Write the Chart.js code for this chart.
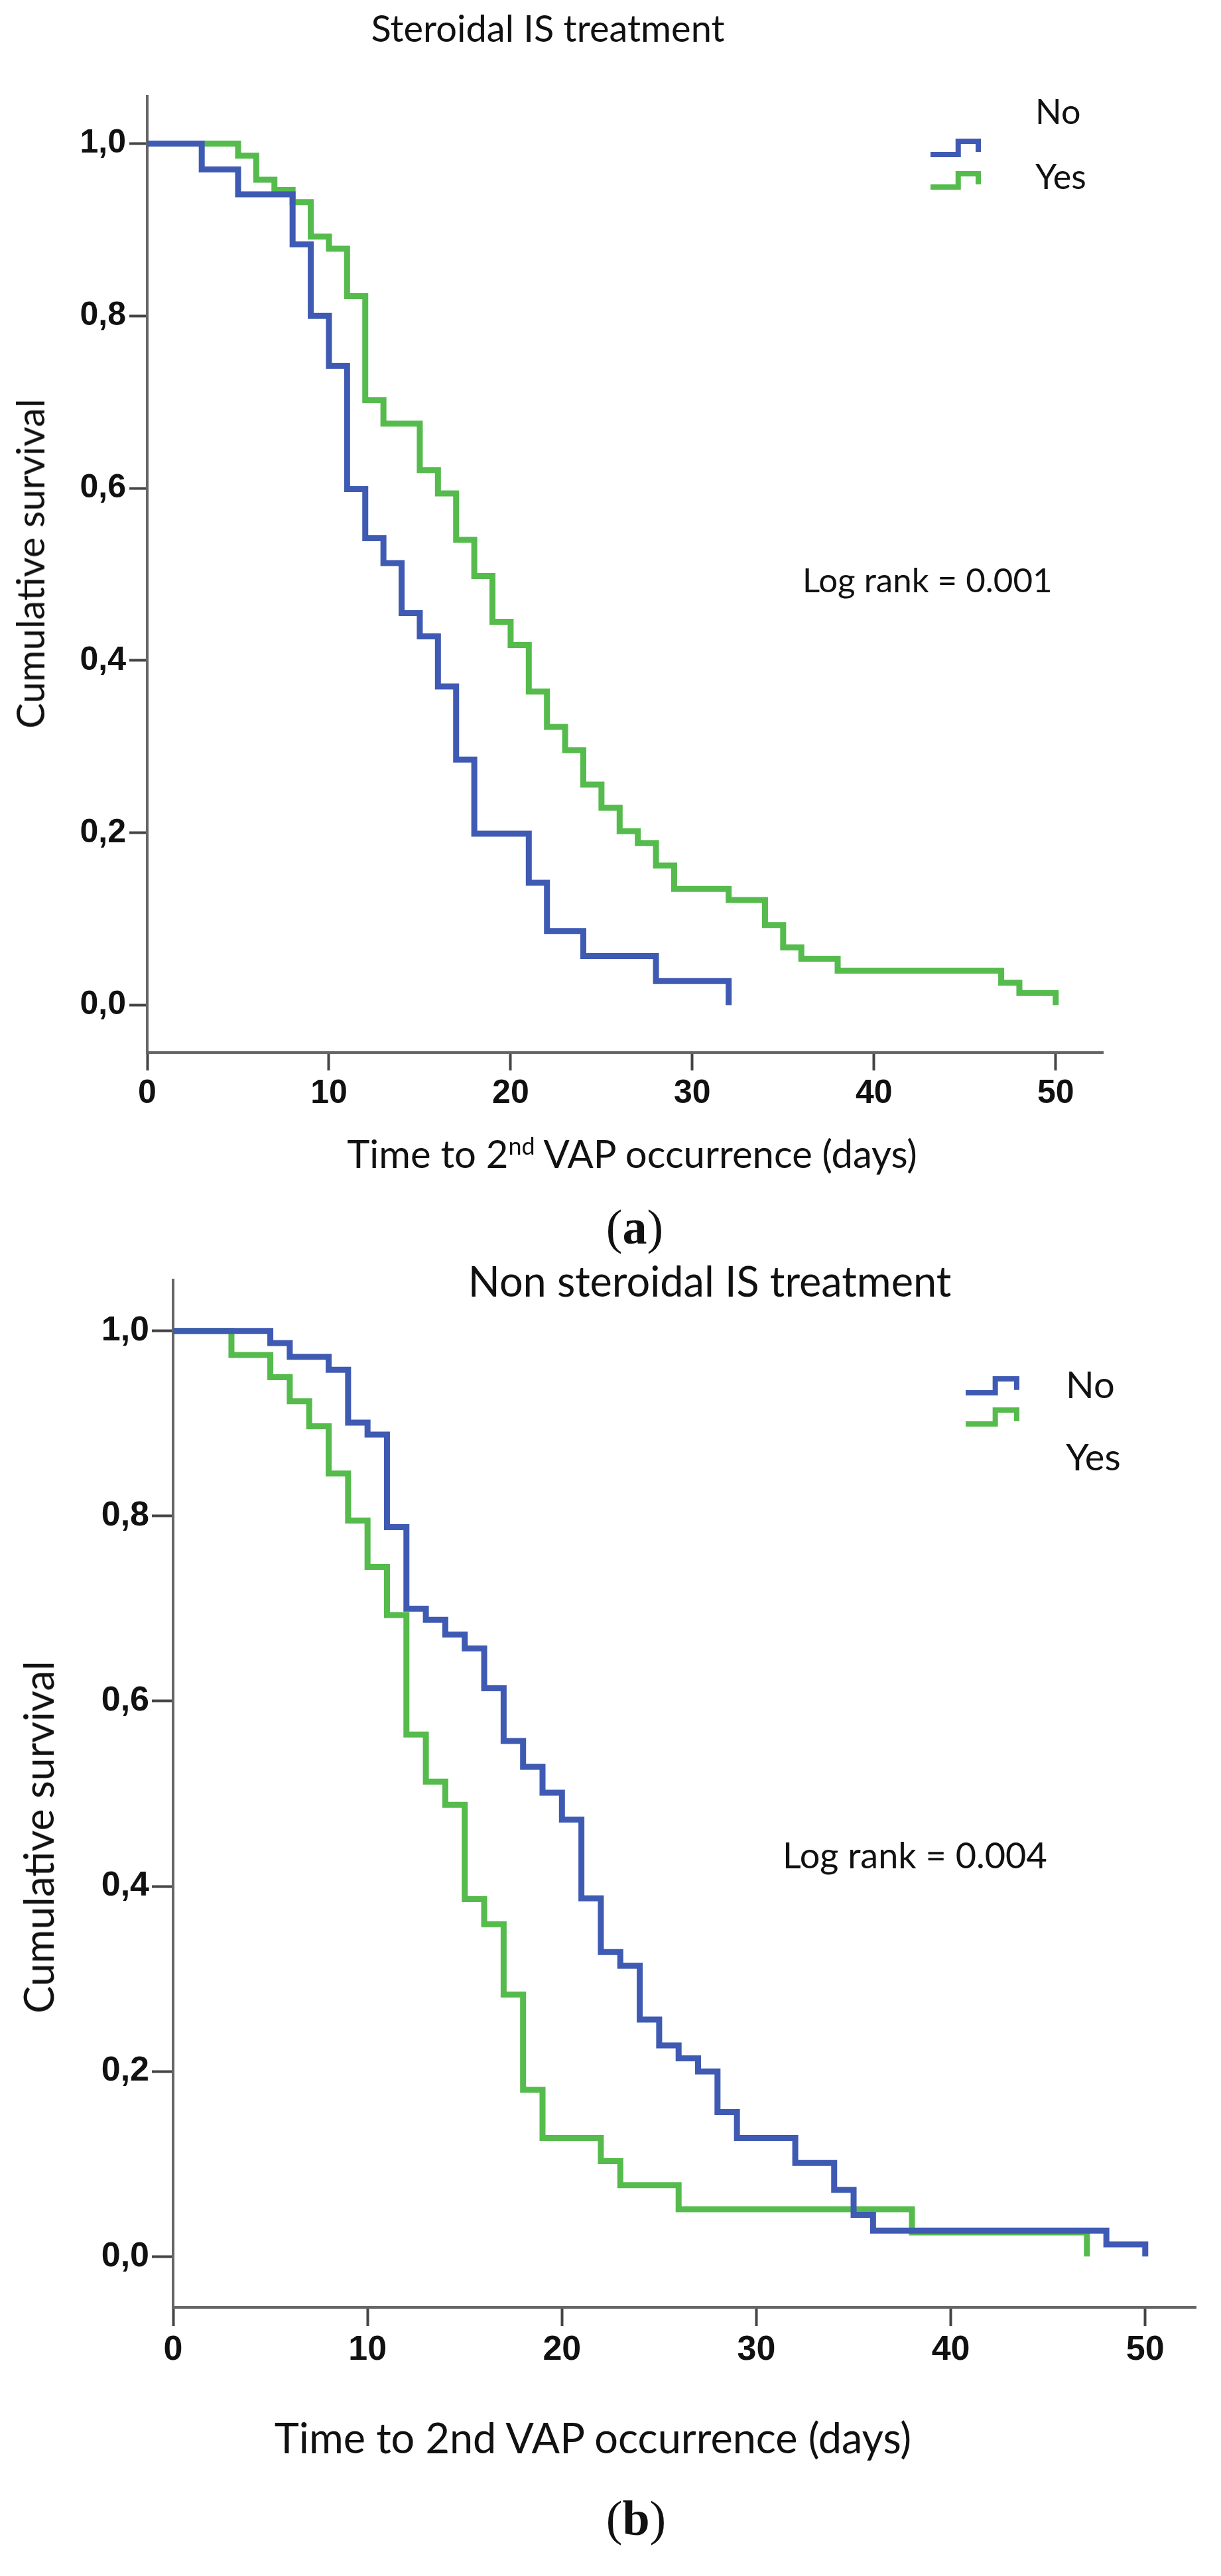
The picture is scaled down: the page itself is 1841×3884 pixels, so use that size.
<!DOCTYPE html>
<html>
<head>
<meta charset="utf-8">
<script src="https://cdn.jsdelivr.net/npm/chart.js@4.4.1/dist/chart.umd.min.js"></script>
<style>
  html, body { margin: 0; padding: 0; background: #fff; }
  #page { position: relative; width: 1841px; height: 3884px; overflow: hidden; font-family: Lato, 'Open Sans', sans-serif; color: #111; }
  canvas { position: absolute; left: 0; }
  .txt { position: absolute; white-space: nowrap; line-height: 1; transform: translate(-50%, -50%); }
  .txt.left { transform: translate(0, -50%); }
  .txt.rot { transform: translate(-50%, -50%) rotate(-90deg); }
  .txt sup { font-size: 0.62em; vertical-align: 0; position: relative; top: -0.55em; }
  .cap { font-family: 'Liberation Serif', 'DejaVu Serif', serif; }
</style>
</head>
<body>
<div id="page">
  <canvas id="chartA" width="1841" height="1800" style="top:0px"></canvas>
  <canvas id="chartB" width="1841" height="2084" style="top:1800px"></canvas>

  <div class="txt" style="left:826px;top:42px;font-size:56px">Steroidal IS treatment</div>
  <div class="txt rot" style="left:45px;top:850px;font-size:58px">Cumulative survival</div>
  <div class="txt left" style="left:1210px;top:873px;font-size:51px">Log rank = 0.001</div>
  <div class="txt" style="left:953px;top:1739px;font-size:58px">Time to 2<sup>nd</sup> VAP occurrence (days)</div>
  <div class="txt cap" style="left:957px;top:1850px;font-size:74px">(<b>a</b>)</div>

  <div class="txt" style="left:1070px;top:1930px;font-size:63px">Non steroidal IS treatment</div>
  <div class="txt rot" style="left:57px;top:2770px;font-size:62px">Cumulative survival</div>
  <div class="txt left" style="left:1180px;top:2797px;font-size:54px">Log rank = 0.004</div>
  <div class="txt" style="left:894px;top:3674px;font-size:63px">Time to 2nd VAP occurrence (days)</div>
  <div class="txt cap" style="left:959px;top:3797px;font-size:74px">(<b>b</b>)</div>
</div>

<script>
// tick values and labels (same for both panels)
const xTickValues = [0, 10, 20, 30, 40, 50];
const xTickLabels = ['0', '10', '20', '30', '40', '50'];
const yTickValues = [0, 0.2, 0.4, 0.6, 0.8, 1.0];
const yTickLabels = ['0,0', '0,2', '0,4', '0,6', '0,8', '1,0'];
const seriesNames = ['No', 'Yes'];

// (a) Steroidal IS treatment - event times (days) and survival after each step
const steroidNoTimes = [0, 3, 5, 8, 9, 10, 11, 12, 13, 14, 15, 16, 17, 18, 21, 22, 24, 28, 32];
const steroidNoSurv = [1, 0.970, 0.941, 0.883, 0.800, 0.742, 0.599, 0.542, 0.513, 0.455, 0.428, 0.370, 0.285, 0.199, 0.142, 0.086, 0.057, 0.028, 0];
const steroidYesTimes = [0, 5, 6, 7, 8, 9, 10, 11, 12, 13, 15, 16, 17, 18, 19, 20, 21, 22, 23, 24, 25, 26, 27, 28, 29, 32, 34, 35, 36, 38, 47, 48, 50];
const steroidYesSurv = [1, 0.986, 0.958, 0.946, 0.932, 0.892, 0.878, 0.823, 0.702, 0.675, 0.621, 0.594, 0.540, 0.498, 0.445, 0.418, 0.364, 0.323, 0.296, 0.256, 0.229, 0.202, 0.188, 0.162, 0.135, 0.122, 0.093, 0.067, 0.054, 0.040, 0.026, 0.014, 0];

// (b) Non steroidal IS treatment
const nonSteroidNoTimes = [0, 5, 6, 8, 9, 10, 11, 12, 13, 14, 15, 16, 17, 18, 19, 20, 21, 22, 23, 24, 25, 26, 27, 28, 29, 32, 34, 35, 36, 48, 50];
const nonSteroidNoSurv = [1, 0.987, 0.972, 0.958, 0.901, 0.888, 0.788, 0.700, 0.688, 0.672, 0.657, 0.614, 0.557, 0.529, 0.501, 0.472, 0.387, 0.329, 0.314, 0.256, 0.228, 0.214, 0.200, 0.156, 0.128, 0.101, 0.072, 0.045, 0.028, 0.013, 0];
const nonSteroidYesTimes = [0, 3, 5, 6, 7, 8, 9, 10, 11, 12, 13, 14, 15, 16, 17, 18, 19, 22, 23, 26, 38, 47];
const nonSteroidYesSurv = [1, 0.974, 0.950, 0.924, 0.897, 0.846, 0.795, 0.745, 0.693, 0.564, 0.513, 0.488, 0.386, 0.359, 0.283, 0.180, 0.128, 0.103, 0.077, 0.051, 0.026, 0];

const colors = ['#3f5ab3', '#55bb4c'];

function toPoints(times, surv) {
  return times.map((t, i) => ({ x: t, y: surv[i] }));
}

// legend drawn by hand, SPSS puts the step icons a bit off the labels
const kmLegend = {
  id: 'kmLegend',
  afterDraw(chart, args, o) {
    const ctx = chart.ctx;
    ctx.save();
    chart.data.datasets.forEach((ds, i) => {
      const it = o.items[i];
      const x0 = o.iconX, w = o.iconW, h = o.iconH, y0 = it.iconY;
      ctx.strokeStyle = ds.borderColor;
      ctx.lineWidth = o.lineWidth;
      ctx.lineJoin = 'miter';
      ctx.lineCap = 'butt';
      ctx.beginPath();
      ctx.moveTo(x0, y0 + h);
      ctx.lineTo(x0 + w * 0.58, y0 + h);
      ctx.lineTo(x0 + w * 0.58, y0);
      ctx.lineTo(x0 + w, y0);
      ctx.lineTo(x0 + w, y0 + h * 0.8);
      ctx.stroke();
      ctx.fillStyle = '#111';
      ctx.font = o.font;
      ctx.textBaseline = 'middle';
      ctx.textAlign = 'left';
      ctx.fillText(ds.label, o.textX, it.textY);
    });
    ctx.restore();
  }
};

function makeChart(id, noPts, yesPts, p) {
  const tickFont = { family: "'Liberation Sans', Arial, sans-serif", weight: 'bold', size: p.tickSize };
  return new Chart(document.getElementById(id), {
    type: 'line',
    data: {
      datasets: [
        { label: seriesNames[0], data: noPts, borderColor: colors[0], borderWidth: p.lineWidth, stepped: 'before', pointRadius: 0, fill: false },
        { label: seriesNames[1], data: yesPts, borderColor: colors[1], borderWidth: p.lineWidth, stepped: 'before', pointRadius: 0, fill: false }
      ]
    },
    options: {
      responsive: false,
      devicePixelRatio: 1,
      animation: false,
      layout: { padding: { left: 0, top: p.top, right: p.right, bottom: 0 } },
      plugins: {
        legend: { display: false },
        tooltip: { enabled: false },
        kmLegend: p.legend
      },
      scales: {
        x: {
          type: 'linear',
          min: 0,
          max: 52.6,
          afterFit: s => { s.height = p.xHeight; },
          afterBuildTicks: s => { s.ticks = xTickValues.map(v => ({ value: v })); },
          ticks: { font: tickFont, color: '#111', padding: 5, maxRotation: 0, autoSkip: false,
                   callback: (v, i) => xTickLabels[i] },
          grid: { drawOnChartArea: false, drawTicks: true, tickLength: p.xTickLen, tickWidth: 4, tickColor: '#444' },
          border: { display: true, color: '#666', width: 4 }
        },
        y: {
          type: 'linear',
          min: -0.055,
          max: 1.055,
          afterFit: s => { s.width = p.yWidth; },
          afterBuildTicks: s => { s.ticks = yTickValues.map(v => ({ value: v })); },
          ticks: { font: tickFont, color: '#111', padding: p.yPad, autoSkip: false,
                   callback: (v, i) => yTickLabels[i] },
          grid: { drawOnChartArea: false, drawTicks: true, tickLength: p.yTickLen, tickWidth: 4, tickColor: '#444' },
          border: { display: true, color: '#666', width: 4 }
        }
      }
    },
    plugins: [kmLegend]
  });
}

makeChart('chartA',
  toPoints(steroidNoTimes, steroidNoSurv),
  toPoints(steroidYesTimes, steroidYesSurv),
  {
    top: 145, right: 178, xHeight: 213, yWidth: 222,
    tickSize: 50, lineWidth: 9, xTickLen: 27, yTickLen: 27, yPad: 5,
    legend: {
      iconX: 1403, iconW: 72, iconH: 20, lineWidth: 8, textX: 1561, font: '52px Lato',
      items: [ { iconY: 213, textY: 170 }, { iconY: 262, textY: 268 } ]
    }
  });

makeChart('chartB',
  toPoints(nonSteroidNoTimes, nonSteroidNoSurv),
  toPoints(nonSteroidYesTimes, nonSteroidYesSurv),
  {
    top: 130, right: 38, xHeight: 405, yWidth: 261,
    tickSize: 52, lineWidth: 9, xTickLen: 28, yTickLen: 32, yPad: 4,
    legend: {
      iconX: 1456, iconW: 77, iconH: 21, lineWidth: 8, textX: 1607, font: '56px Lato',
      items: [ { iconY: 279, textY: 290 }, { iconY: 326, textY: 399 } ]
    }
  });
</script>
</body>
</html>
